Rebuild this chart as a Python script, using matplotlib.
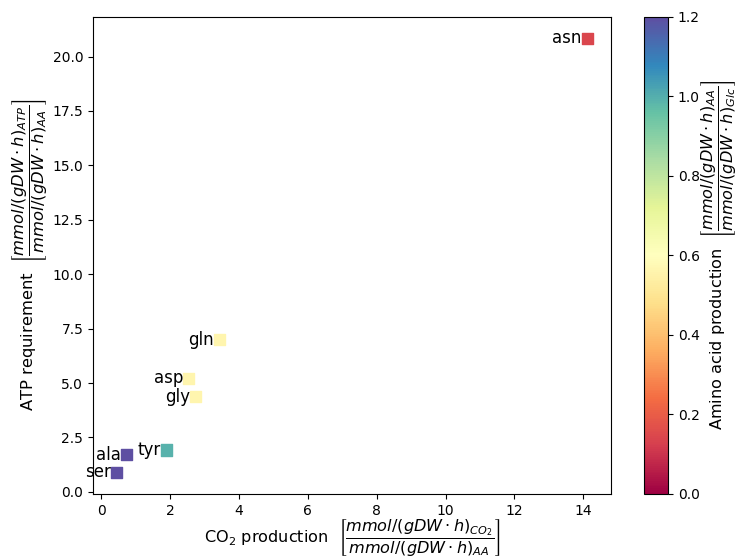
import numpy as np
import matplotlib
matplotlib.use('Agg')
from matplotlib import pyplot as plt

# amino acid yields
names = ['asn', 'gln', 'asp', 'gly', 'tyr', 'ala', 'ser']
co2 = [14.12, 3.43, 2.53, 2.73, 1.89, 0.73, 0.44]
atp = [20.83, 6.99, 5.22, 4.36, 1.92, 1.70, 0.90]
aa_prod = [0.145, 0.56, 0.56, 0.56, 0.99, 1.20, 1.20]

fig = plt.figure(figsize=(7.41, 5.6), dpi=100)
ax = fig.add_axes([0.1255, 0.118, 0.699, 0.852])
cax = fig.add_axes([0.869, 0.118, 0.0324, 0.852])

sc = ax.scatter(co2, atp, c=aa_prod, cmap='Spectral', vmin=0, vmax=1.2,
                marker='s', s=64)
for n, x, y in zip(names, co2, atp):
    ax.annotate(n, (x, y), xytext=(-4, 0), textcoords='offset points',
                ha='right', va='center', fontsize=12)

ax.set_xlabel(r'CO$_2$ production  $\left[\dfrac{mmol/(gDW\cdot h)_{CO_2}}{mmol/(gDW\cdot h)_{AA}}\right]$',
              fontsize=11.6, labelpad=0)
ax.set_ylabel(r'ATP requirement  $\left[\dfrac{mmol/(gDW\cdot h)_{ATP}}{mmol/(gDW\cdot h)_{AA}}\right]$',
              fontsize=11.8, labelpad=2)
cb = fig.colorbar(sc, cax=cax)
cb.set_label(r'Amino acid production  $\left[\dfrac{mmol/(gDW\cdot h)_{AA}}{mmol/(gDW\cdot h)_{Glc}}\right]$',
             fontsize=11.6, labelpad=0)

plt.savefig('out.png')
